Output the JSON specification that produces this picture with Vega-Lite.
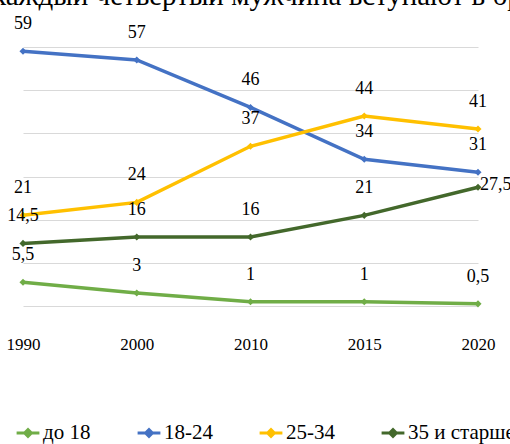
{
  "$schema": "https://vega.github.io/schema/vega-lite/v6.json",
  "width": 502,
  "height": 259,
  "autosize": {"type": "none"},
  "padding": {"left": 8, "top": 47, "right": 0, "bottom": 138},
  "background": "white",
  "title": {
    "text": "каждый четвертый мужчина вступают в брак",
    "anchor": "start",
    "frame": "group",
    "orient": "top",
    "offset": 0,
    "baseline": "alphabetic",
    "dx": -16,
    "dy": 19,
    "font": "Liberation Serif",
    "fontSize": 29,
    "fontWeight": "normal",
    "color": "#000000"
  },
  "config": {
    "locale": {"number": {"decimal": ",", "thousands": " ", "grouping": [3], "currency": ["", ""]}},
    "view": {"stroke": null},
    "font": "Liberation Serif"
  },
  "data": {
    "values": [
      {"year": "1990", "group": "до 18", "value": 5.5},
      {"year": "2000", "group": "до 18", "value": 3},
      {"year": "2010", "group": "до 18", "value": 1},
      {"year": "2015", "group": "до 18", "value": 1},
      {"year": "2020", "group": "до 18", "value": 0.5},
      {"year": "1990", "group": "18-24", "value": 59},
      {"year": "2000", "group": "18-24", "value": 57},
      {"year": "2010", "group": "18-24", "value": 46},
      {"year": "2015", "group": "18-24", "value": 34},
      {"year": "2020", "group": "18-24", "value": 31},
      {"year": "1990", "group": "25-34", "value": 21},
      {"year": "2000", "group": "25-34", "value": 24},
      {"year": "2010", "group": "25-34", "value": 37},
      {"year": "2015", "group": "25-34", "value": 44},
      {"year": "2020", "group": "25-34", "value": 41},
      {"year": "1990", "group": "35 и старше", "value": 14.5},
      {"year": "2000", "group": "35 и старше", "value": 16},
      {"year": "2010", "group": "35 и старше", "value": 16},
      {"year": "2015", "group": "35 и старше", "value": 21},
      {"year": "2020", "group": "35 и старше", "value": 27.5}
    ]
  },
  "encoding": {
    "x": {
      "field": "year",
      "type": "ordinal",
      "sort": null,
      "scale": {"type": "point", "range": [15, 470], "padding": 0},
      "axis": {
        "title": null,
        "labelAngle": 0,
        "domain": false,
        "ticks": false,
        "grid": false,
        "labelPadding": 30,
        "labelFontSize": 17,
        "labelColor": "#000000",
        "labelFont": "Liberation Serif"
      }
    },
    "y": {
      "field": "value",
      "type": "quantitative",
      "scale": {"domain": [0, 60], "nice": false},
      "axis": {
        "title": null,
        "values": [0, 10, 20, 30, 40, 50, 60],
        "labels": false,
        "ticks": false,
        "domain": false,
        "grid": true,
        "gridColor": "#D9D9D9",
        "gridWidth": 1
      }
    },
    "color": {
      "field": "group",
      "type": "nominal",
      "sort": ["до 18", "18-24", "25-34", "35 и старше"],
      "scale": {
        "domain": ["до 18", "18-24", "25-34", "35 и старше"],
        "range": ["#70AD47", "#4472C4", "#FFC000", "#43682B"]
      },
      "legend": {
        "title": null,
        "orient": "none",
        "legendX": 7,
        "legendY": 373,
        "direction": "horizontal",
        "columns": 4,
        "columnPadding": 40,
        "symbolType": "M-1,0L-0.3,0L0,-0.3L0.3,0L1,0L0.3,0L0,0.3L-0.3,0Z",
        "symbolSize": 520,
        "symbolStrokeWidth": 3,
        "symbolOffset": 0,
        "labelOffset": 2,
        "labelFontSize": 21,
        "labelFont": "Liberation Serif",
        "labelColor": "#000000",
        "encode": {
          "symbols": {"update": {"fill": {"scale": "color", "field": "value"}}}
        }
      }
    }
  },
  "layer": [
    {
      "mark": {"type": "line", "strokeWidth": 3.5},
      "encoding": {}
    },
    {
      "mark": {"type": "point", "shape": "diamond", "filled": true, "size": 50, "opacity": 1},
      "encoding": {}
    },
    {
      "transform": [{"filter": "!(datum.group == '35 и старше' && datum.year == '2020')"}],
      "mark": {"type": "text", "dy": -27, "fontSize": 18, "font": "Liberation Serif", "baseline": "middle"},
      "encoding": {
        "text": {"field": "value", "type": "quantitative", "format": "~g"},
        "color": {"value": "#000000"}
      }
    },
    {
      "transform": [{"filter": "datum.group == '35 и старше' && datum.year == '2020'"}],
      "mark": {"type": "text", "dx": 2, "dy": -2, "align": "left", "fontSize": 18, "font": "Liberation Serif", "baseline": "middle"},
      "encoding": {
        "text": {"field": "value", "type": "quantitative", "format": "~g"},
        "color": {"value": "#000000"}
      }
    }
  ]
}
